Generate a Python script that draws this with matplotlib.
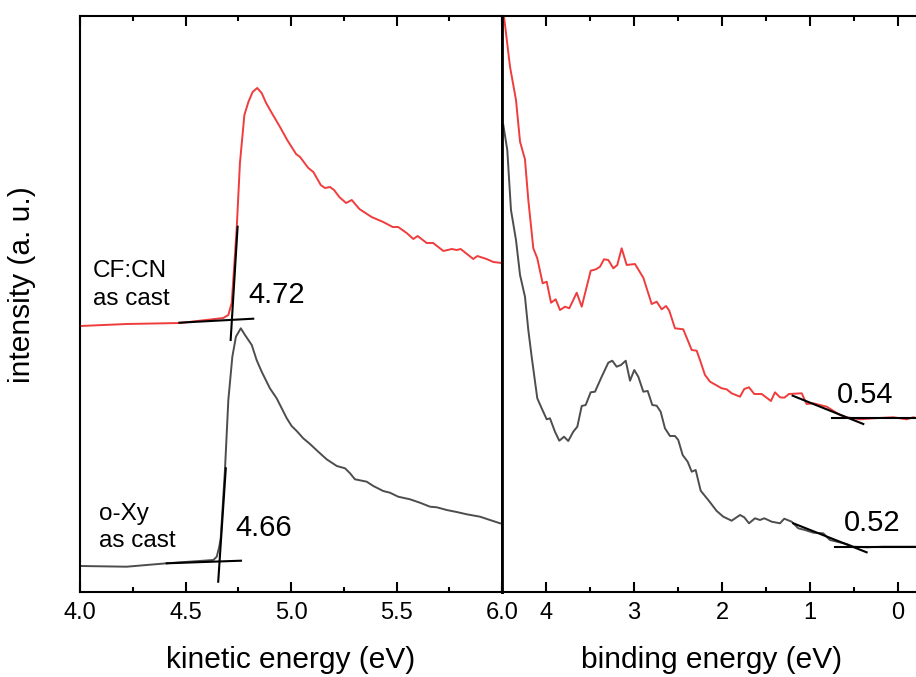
import matplotlib
matplotlib.use("Agg")
import matplotlib.pyplot as plt
from matplotlib.ticker import MultipleLocator, FixedLocator

plt.rcParams['font.family'] = ['Liberation Sans', 'DejaVu Sans']

# ---------------- data: kinetic energy panel ----------------
ke_red = [4.003, 4.221, 4.474, 4.679, 4.703, 4.719, 4.735, 4.743, 4.758, 4.779, 4.798, 4.818,
          4.840, 4.861, 4.882, 4.909, 4.948, 4.982, 5.024, 5.043, 5.082, 5.106, 5.141, 5.161,
          5.185, 5.204, 5.229, 5.261, 5.288, 5.324, 5.382, 5.437, 5.482, 5.508, 5.548, 5.580,
          5.600, 5.643, 5.674, 5.722, 5.762, 5.785, 5.804, 5.864, 5.883, 5.927, 5.959, 5.999]
int_red_ke = [266, 268, 269, 274, 277, 289, 339, 365, 429, 477, 490, 500,
              504, 499, 489, 479, 465, 452, 438, 435, 424, 420, 407, 404,
              405, 402, 395, 389, 392, 383, 375, 370, 365, 365, 359, 353,
              356, 349, 349, 341, 343, 342, 343, 333, 336, 333, 330, 329]

ke_gray = [4.003, 4.221, 4.411, 4.632, 4.648, 4.660, 4.667, 4.687, 4.703, 4.722, 4.739, 4.762,
           4.782, 4.814, 4.837, 4.861, 4.900, 4.932, 4.956, 4.980, 5.003, 5.027, 5.058, 5.090,
           5.129, 5.169, 5.217, 5.256, 5.280, 5.303, 5.359, 5.390, 5.437, 5.469, 5.508, 5.564,
           5.611, 5.659, 5.691, 5.738, 5.785, 5.833, 5.896, 5.943, 5.991]
int_gray_ke = [26, 25.3, 28.7, 32, 35.3, 45.3, 54, 122, 192, 235.3, 255.3, 263.7,
               257, 247, 232, 220.3, 203.7, 193.7, 183.7, 173.7, 166, 161, 153.7, 148,
               140.3, 132.7, 126, 123.7, 118.7, 112.7, 110.3, 106, 101, 99.3, 95.3, 92.7,
               89.3, 85.3, 84.7, 82, 80, 77.7, 75.3, 72, 68.7]

# tangent (cut-off) lines, kinetic energy
tan_red_ke_x = [[4.714, 4.747], [4.471, 4.821]]
tan_red_ke_y = [[252, 365.3], [269.3, 273.3]]
tan_gray_ke_x = [[4.655, 4.691], [4.411, 4.763]]
tan_gray_ke_y = [[10.3, 123.7], [28.7, 31.3]]

# ---------------- data: binding energy panel ----------------
be_red = [4.477, 4.409, 4.341, 4.295, 4.239, 4.201, 4.144, 4.099, 4.038, 3.992, 3.943, 3.890,
          3.841, 3.784, 3.735, 3.651, 3.594, 3.492, 3.432, 3.386, 3.341, 3.292, 3.235, 3.190,
          3.140, 3.083, 2.989, 2.894, 2.799, 2.742, 2.685, 2.636, 2.599, 2.534, 2.440, 2.344,
          2.288, 2.250, 2.193, 2.136, 2.003, 1.947, 1.890, 1.795, 1.747, 1.693, 1.633, 1.549,
          1.443, 1.398, 1.341, 1.292, 1.239, 1.094, 1.038, 0.962, 0.810, 0.659, 0.583, 0.432,
          0.281, 0.053, -0.099, -0.174, -0.205]
int_red_be = [575.3, 525.3, 492, 450.3, 432.7, 392, 343.7, 333.7, 308.7, 310.3, 289.3, 292.7,
              282, 285.3, 283.7, 299.3, 285.3, 321.3, 322.7, 325.3, 332.7, 332, 323.7, 327,
              343.7, 327, 328, 314.3, 288, 290.3, 282.7, 286, 281.3, 263.7, 262.7, 242,
              241.3, 232, 217, 210.3, 203.7, 202.7, 198.7, 195.3, 203, 204.7, 198, 198,
              191, 199.7, 194.7, 194.3, 198, 198.7, 188, 188.7, 185.3, 177, 174.7, 172.7,
              173.7, 174.7, 172.7, 174.7, 174]

be_gray = [4.485, 4.440, 4.398, 4.341, 4.295, 4.239, 4.201, 4.163, 4.099, 4.049, 3.992, 3.955,
           3.898, 3.849, 3.795, 3.747, 3.690, 3.644, 3.594, 3.549, 3.492, 3.443, 3.367, 3.292,
           3.247, 3.197, 3.148, 3.094, 3.045, 2.997, 2.951, 2.894, 2.844, 2.792, 2.742, 2.697,
           2.648, 2.591, 2.534, 2.497, 2.447, 2.390, 2.344, 2.299, 2.242, 2.156, 2.060, 1.985,
           1.890, 1.795, 1.747, 1.693, 1.625, 1.568, 1.519, 1.435, 1.341, 1.292, 1.208, 1.133,
           1.057, 0.962, 0.849, 0.773, 0.583, 0.508, 0.356, 0.167, -0.023, -0.205]
int_gray_be = [467, 442, 382, 352, 317, 295.3, 262, 235.3, 193.7, 183.7, 172.7, 173.7,
               160.3, 151.3, 155.3, 151, 160.3, 165.3, 186, 187, 199.7, 200.3, 215.3, 229.3,
               231.3, 225.3, 227, 231.3, 211.3, 222, 215.3, 200.3, 201, 187, 186.3, 180.3,
               163.7, 156, 156, 152, 137, 130.3, 120.3, 122, 101.3, 92, 81, 75.3,
               71.3, 77, 74.7, 68.7, 73.7, 72, 73.7, 70.3, 68.7, 73.3, 70.3, 63.7,
               62, 59.3, 58.7, 52, 48, 45.3, 44.7, 45.3, 45.3, 45.3]

tan_red_be_x = [[1.197, 0.394], [0.747, -0.205]]
tan_red_be_y = [[196.3, 168], [173.7, 173.7]]
tan_gray_be_x = [[1.190, 0.356], [0.716, -0.205]]
tan_gray_be_y = [[68.7, 39.7], [44.7, 44.7]]

ke_ticks = [4.0, 4.5, 5.0, 5.5, 6.0]
ke_ticklabels = ['4.0', '4.5', '5.0', '5.5', '6.0']
be_ticks = [4, 3, 2, 1, 0]
be_ticklabels = ['4', '3', '2', '1', '0']

RED = '#f03c3c'
GRAY = '#4d4d4d'

W, H = 916, 677
fig = plt.figure(figsize=(W / 100, H / 100), dpi=100)

def fx(px):
    return px / W

def fy(py):
    return 1 - py / H

top, bot = 16, 592
axL = fig.add_axes([fx(80), fy(bot), fx(502) - fx(80), fy(top) - fy(bot)])
axR = fig.add_axes([fx(502), fy(bot), 1 - fx(502), fy(top) - fy(bot)])

YMAX = 576
for ax in (axL, axR):
    ax.set_ylim(0, YMAX)
    ax.set_yticks([])
    for s in ax.spines.values():
        s.set_linewidth(1.5)
    ax.tick_params(axis='x', which='both', direction='in', top=True, bottom=True,
                   width=1.5, labelsize=17, pad=7)
    ax.tick_params(axis='x', which='major', length=7.2)
    ax.tick_params(axis='x', which='minor', length=3.6)
    ax.tick_params(axis='y', which='both', left=False, right=False)

# Left panel
axL.plot(ke_red, int_red_ke, color=RED, lw=1.4)
axL.plot(ke_gray, int_gray_ke, color=GRAY, lw=1.4)
for xs, ys in zip(tan_red_ke_x, tan_red_ke_y):
    axL.plot(xs, ys, color='black', lw=1.5)
for xs, ys in zip(tan_gray_ke_x, tan_gray_ke_y):
    axL.plot(xs, ys, color='black', lw=1.5)
axL.set_xlim(4.0, 6.0)
axL.xaxis.set_major_locator(FixedLocator(ke_ticks))
axL.set_xticklabels(ke_ticklabels)
axL.xaxis.set_minor_locator(MultipleLocator(0.25))
axL.text(4.062, 307, 'CF:CN\nas cast', fontsize=17.5, ha='left', va='center', linespacing=1.35)
axL.text(4.090, 64.5, 'o-Xy\nas cast', fontsize=17.5, ha='left', va='center', linespacing=1.35)
axL.text(4.796, 297, '4.72', fontsize=21, ha='left', va='center')
axL.text(4.735, 64, '4.66', fontsize=21, ha='left', va='center')

# Right panel
axR.plot(be_red, int_red_be, color=RED, lw=1.4, clip_on=False)
axR.plot(be_gray, int_gray_be, color=GRAY, lw=1.4)
for xs, ys in zip(tan_red_be_x, tan_red_be_y):
    axR.plot(xs, ys, color='black', lw=1.5)
for xs, ys in zip(tan_gray_be_x, tan_gray_be_y):
    axR.plot(xs, ys, color='black', lw=1.5)
axR.set_xlim(4.5, -0.205)
axR.xaxis.set_major_locator(FixedLocator(be_ticks))
axR.set_xticklabels(be_ticklabels)
axR.xaxis.set_minor_locator(MultipleLocator(0.5))
axR.spines['right'].set_visible(False)
axR.spines['left'].set_linewidth(2)
axL.spines['right'].set_linewidth(2)
axR.text(0.693, 197, '0.54', fontsize=21, ha='left', va='center')
axR.text(0.614, 69, '0.52', fontsize=21, ha='left', va='center')

# Axis labels
fig.text(fx(291), fy(660), 'kinetic energy (eV)', fontsize=21.5, ha='center', va='center')
fig.text(fx(712), fy(660), 'binding energy (eV)', fontsize=21.5, ha='center', va='center')
fig.text(fx(22), fy(285), 'intensity (a. u.)', fontsize=21.5, ha='center', va='center',
         rotation=90)

fig.savefig('out.png', dpi=100)
